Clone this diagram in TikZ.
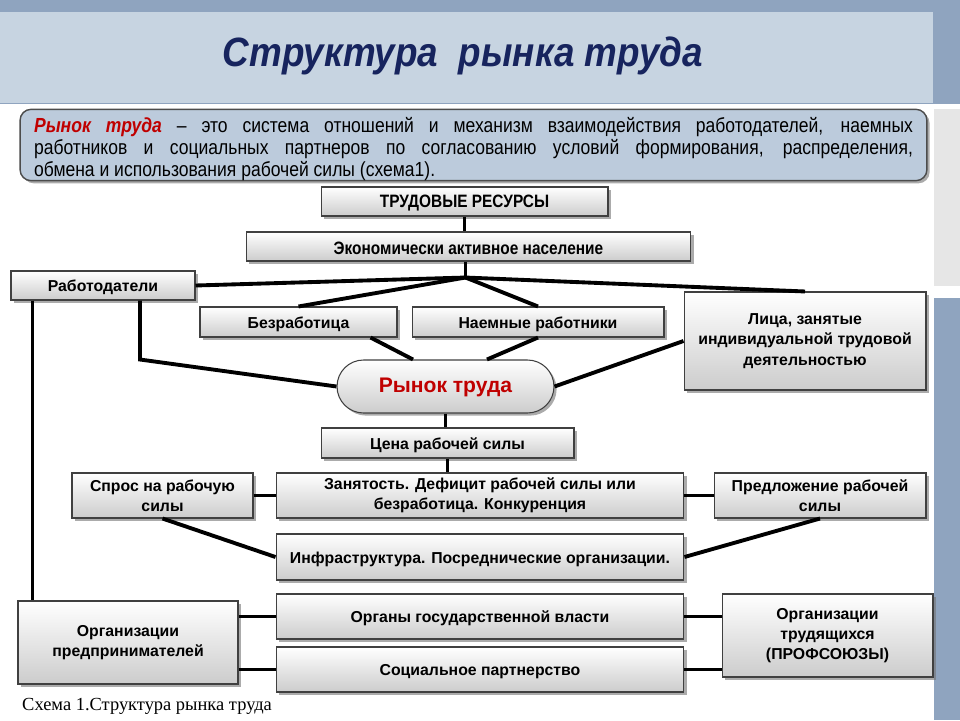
\documentclass[tikz,border=0pt]{standalone}
\usepackage{fontspec}
\setmainfont{Liberation Sans}
\newfontfamily\narrowfont{Liberation Sans}[FakeStretch=0.86]
\newfontfamily\titlefont{Liberation Sans}[FakeStretch=0.9]
\newfontfamily\captionfont{Liberation Serif}
\usetikzlibrary{shadows, calc}
\usepackage{xcolor}
\definecolor{faixaescura}{RGB}{143, 164, 191}
\definecolor{faixaclara}{RGB}{199, 212, 225}
\definecolor{faixacinza}{RGB}{230, 230, 230}
\definecolor{azultitulo}{RGB}{23, 36, 94}
\definecolor{azuldef}{RGB}{188, 203, 220}
\definecolor{vermelho}{RGB}{192, 0, 0}

\begin{document}
\begin{tikzpicture}[
    x=0.02cm, y=-0.02cm,
    every node/.style={font=\bfseries\fontsize{9}{11.5}\selectfont},
    caixa/.style={
        draw=black!75, line width=0.6pt,
        top color=white, bottom color=black!20,
        align=center, inner sep=0pt,
        execute at begin node={\rule{0pt}{9pt}},
        drop shadow={shadow xshift=1.5pt, shadow yshift=-1.5pt, fill=black!55, opacity=0.6}
    },
    liga/.style={line width=2.2pt, black}
]

\useasboundingbox (0,0) rectangle (960,720);

% ------------------------------------------------
% Fundo
% ------------------------------------------------

\fill[faixaescura] (0,0) rectangle (960,104);
\fill[faixaclara] (0,12) rectangle (933,103);
\fill[faixacinza] (934,109) rectangle (960,286);
\fill[faixaescura] (934,298) rectangle (960,720);

\node[
    font=\titlefont\bfseries\itshape\fontsize{23.3}{27}\selectfont,
    text=azultitulo
] (titulo) at (463,56)
{Структура\hspace{0.5em}рынка труда};

\node[
    draw=black!70,
    line width=0.8pt,
    rounded corners=0.22cm,
    fill=azuldef,
    text width=17.58cm,
    minimum height=1.4cm,
    inner xsep=0.28cm,
    inner ysep=0pt,
    align=justify,
    font=\narrowfont\fontsize{11.6}{12.6}\selectfont,
    drop shadow={shadow xshift=1.5pt, shadow yshift=-1.5pt, fill=black!55, opacity=0.6}
] (definicao) at (473.5,145)
{\rule{0pt}{13pt}{\color{vermelho}\bfseries\itshape Рынок труда} – это система отношений и механизм взаимодействия работодателей, наемных\linebreak
работников и социальных партнеров по согласованию условий формирования, распределения,\linebreak
обмена и использования рабочей силы (схема1).};

% ------------------------------------------------
% Caixas
% ------------------------------------------------

\node[caixa, minimum width=5.74cm, minimum height=0.58cm,
    font=\narrowfont\bfseries\fontsize{10.2}{12}\selectfont]
    (recursos) at (464.5,201.5) {ТРУДОВЫЕ РЕСУРСЫ};

\node[caixa, minimum width=8.9cm, minimum height=0.58cm,
    font=\narrowfont\bfseries\fontsize{10.2}{12}\selectfont]
    (ativos) at (468.5,246.5) {Экономически активное население};

\node[caixa, minimum width=3.68cm, minimum height=0.58cm]
    (empregadores) at (103,285.5) {Работодатели};

\node[caixa, minimum width=3.94cm, minimum height=0.6cm]
    (desemprego) at (298.5,322) {Безработица};

\node[caixa, minimum width=5.04cm, minimum height=0.6cm]
    (assalariados) at (538,322) {Наемные работники};

\node[caixa, minimum width=4.84cm, minimum height=1.96cm]
    (autonomos) at (805,341)
    {Лица, занятые\\индивидуальной трудовой\\деятельностью};

\node[caixa, minimum width=4.34cm, minimum height=1.06cm,
    rounded corners=0.53cm, text=vermelho,
    font=\bfseries\fontsize{12}{14}\selectfont]
    (mercado) at (445.5,386.5) {Рынок труда};

\node[caixa, minimum width=5.06cm, minimum height=0.6cm]
    (preco) at (447.5,443) {Цена рабочей силы};

\node[caixa, minimum width=3.62cm, minimum height=0.9cm]
    (procura) at (162.5,495.5) {Спрос на рабочую\\силы};

\node[caixa, minimum width=8.16cm, minimum height=0.9cm]
    (emprego) at (480,495.5)
    {Занятость. Дефицит рабочей силы или\\безработица. Конкуренция};

\node[caixa, minimum width=4.24cm, minimum height=0.9cm]
    (oferta) at (820,495.5) {Предложение рабочей\\силы};

\node[caixa, minimum width=8.16cm, minimum height=0.92cm]
    (infra) at (480,557) {Инфраструктура. Посреднические организации.};

\node[caixa, minimum width=4.4cm, minimum height=1.66cm]
    (patroes) at (128,642.5) {Организации\\предпринимателей};

\node[caixa, minimum width=8.16cm, minimum height=0.9cm]
    (governo) at (480,616.5) {Органы государственной власти};

\node[caixa, minimum width=8.16cm, minimum height=0.9cm]
    (parceria) at (480,669.5) {Социальное партнерство};

\node[caixa, minimum width=4.22cm, minimum height=1.66cm]
    (sindicatos) at (827.5,635.5)
    {Организации\\трудящихся\\(ПРОФСОЮЗЫ)};

\node[
    anchor=west,
    font=\captionfont\fontsize{10.5}{12}\selectfont
] (legenda) at (16,706)
{Схема 1.Структура рынка труда};

% ------------------------------------------------
% Ligações
% ------------------------------------------------

\coordinate (centro) at ($(ativos.south)+(-0.06cm,-0.32cm)$);

\draw[liga] (recursos.south) -- (recursos.south |- ativos.north);
\draw[liga] (ativos.south -| centro) -- (centro);
\draw[liga] (centro) -- (empregadores.east);
\draw[liga] (centro) -- (autonomos.north);
\draw[liga] (centro) -- (desemprego.north);
\draw[liga] (centro) -- (assalariados.north);

\draw[liga] ([xshift=-0.54cm]desemprego.south east) -- ([xshift=-0.65cm]mercado.north);
\draw[liga] (assalariados.south) -- ([xshift=0.83cm]mercado.north);
\draw[liga] ([xshift=0.74cm]empregadores.south) -- ++(0cm,-1.18cm) -- (mercado.west);
\draw[liga] (autonomos.west) -- (mercado.east);
\draw[liga] ([xshift=0.44cm]empregadores.south west) -- ([xshift=0.44cm]empregadores.south west |- patroes.north);

\draw[liga] (mercado.south) -- (mercado.south |- preco.north);
\draw[liga] (preco.south) -- (preco.south |- emprego.north);
\draw[liga] (procura.east) -- (emprego.west);
\draw[liga] (emprego.east) -- (oferta.west);
\draw[liga] (procura.south) -- (infra.west);
\draw[liga] (oferta.south) -- (infra.east);

\draw[liga] (governo.west -| patroes.east) -- (governo.west);
\draw[liga] (parceria.west -| patroes.east) -- (parceria.west);
\draw[liga] (governo.east) -- (governo.east -| sindicatos.west);
\draw[liga] (parceria.east) -- (parceria.east -| sindicatos.west);

\end{tikzpicture}
\end{document}
